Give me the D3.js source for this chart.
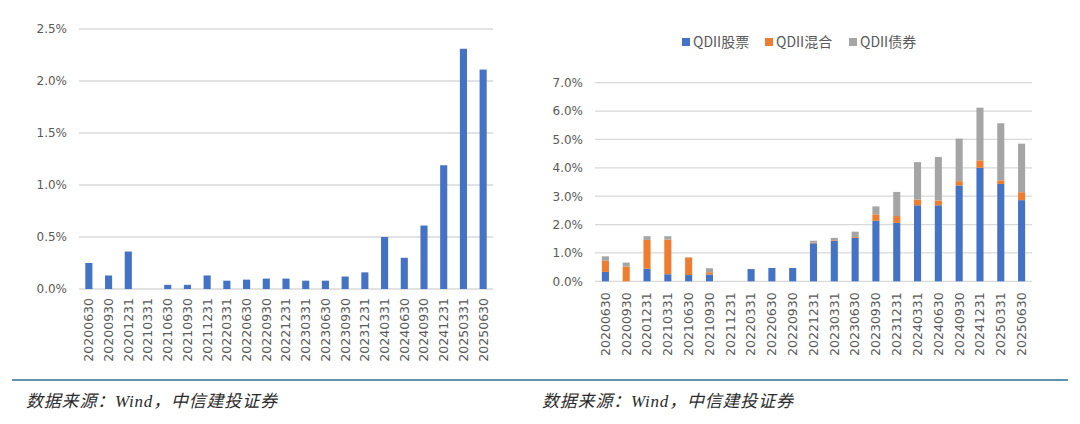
<!DOCTYPE html>
<html lang="zh">
<head>
<meta charset="UTF-8">
<title>QDII</title>
<script src="https://cdnjs.cloudflare.com/ajax/libs/d3/7.8.4/d3.min.js"></script>
<style>
  body { margin: 0; background: #fff; }
  svg { display: block; }
  .tick text { fill: #595959; }
</style>
</head>
<body>
<svg width="1080" height="424"></svg>
<script>
const dates = ["20200630","20200930","20201231","20210331","20210630","20210930","20211231",
  "20220331","20220630","20220930","20221231","20230331","20230630","20230930","20231231",
  "20240331","20240630","20240930","20241231","20250331","20250630"];

// left chart (%)
const leftValues = [0.25,0.13,0.36,0,0.04,0.04,0.13,0.08,0.09,0.10,0.10,0.08,0.08,0.12,0.16,
  0.50,0.30,0.61,1.19,2.31,2.11];

// right chart stacks (%)
const seriesNames = ["QDII股票","QDII混合","QDII债券"];
const stockValues = [0.33,0.00,0.44,0.25,0.22,0.24,0,0.43,0.47,0.47,1.34,1.43,1.53,2.13,2.06,
  2.68,2.68,3.38,4.00,3.43,2.86];
const mixValues = [0.40,0.52,1.02,1.22,0.62,0.08,0,0,0,0,0.02,0.02,0.03,0.23,0.24,
  0.20,0.17,0.15,0.26,0.13,0.28];
const bondValues = [0.15,0.14,0.13,0.12,0,0.14,0,0,0,0,0.07,0.08,0.19,0.28,0.85,
  1.32,1.53,1.50,1.86,2.01,1.71];
const leftTicks = [0,0.5,1.0,1.5,2.0,2.5];
const rightTicks = [0,1,2,3,4,5,6,7];
const colors = ["#4472C4","#ED7D31","#A5A5A5"];

const svg = d3.select("svg");
const numFont = "DejaVu Sans, sans-serif";

function drawAxes(g, x, y, ticks, x0, x1, labelGap) {
  // gridlines
  g.selectAll("line.grid").data(ticks).enter().append("line")
    .attr("x1", x0).attr("x2", x1)
    .attr("y1", d => y(d)).attr("y2", d => y(d))
    .style("stroke", "#d9d9d9").style("stroke-width", 1.3);

  const ya = g.append("g").attr("transform", `translate(${x0 - 6},0)`)
    .call(d3.axisLeft(y).tickValues(ticks).tickSize(0).tickFormat(d => d.toFixed(1) + "%"));
  ya.select(".domain").remove();
  ya.selectAll("text").style("font-family", numFont).style("font-size", "12px").attr("dx", "-3");

  const xa = g.append("g").attr("transform", `translate(0,${y(0)})`)
    .call(d3.axisBottom(x).tickSize(0));
  xa.select(".domain").remove();
  xa.selectAll("text")
    .style("font-family", numFont).style("font-size", "12.5px")
    .attr("transform", "rotate(-90)")
    .attr("text-anchor", "end")
    .attr("x", -labelGap).attr("y", 0).attr("dy", "0.35em");
}

// ---- left chart
const xL = d3.scaleBand().domain(dates).range([79, 493]).paddingInner(0.64).paddingOuter(0.32);
const yL = d3.scaleLinear().domain([0, 2.5]).range([289, 29]);
const gL = svg.append("g");
drawAxes(gL, xL, yL, leftTicks, 79, 493, 9);
gL.selectAll("rect.bar").data(leftValues).enter().append("rect")
  .attr("x", (d, i) => xL(dates[i]))
  .attr("width", xL.bandwidth())
  .attr("y", d => yL(d))
  .attr("height", d => yL(0) - yL(d))
  .style("fill", colors[0]);

// ---- right chart
const xR = d3.scaleBand().domain(dates).range([595, 1032]).paddingInner(0.66).paddingOuter(0.33);
const yR = d3.scaleLinear().domain([0, 7]).range([281.3, 82.7]);
const gR = svg.append("g");
drawAxes(gR, xR, yR, rightTicks, 595, 1032, 11);

const rows = dates.map((d, i) => ({ date: d, s0: stockValues[i], s1: mixValues[i], s2: bondValues[i] }));
const stack = d3.stack().keys(["s0","s1","s2"])(rows);
gR.selectAll("g.layer").data(stack).enter().append("g")
  .style("fill", (d, i) => colors[i])
  .selectAll("rect").data(d => d).enter().append("rect")
  .attr("x", d => xR(d.data.date))
  .attr("width", xR.bandwidth())
  .attr("y", d => yR(d[1]))
  .attr("height", d => yR(d[0]) - yR(d[1]));

// legend
const legendX = [682, 765, 849];
const leg = gR.selectAll("g.leg").data(seriesNames).enter().append("g")
  .attr("transform", (d, i) => `translate(${legendX[i]},42)`);
leg.append("rect").attr("x", 0).attr("y", -4).attr("width", 8).attr("height", 8)
  .style("fill", (d, i) => colors[i]);
leg.append("text").attr("x", 11).attr("dy", "0.35em")
  .style("font-family", "Noto Sans CJK SC, sans-serif").style("font-size", "14px")
  .style("fill", "#595959").text(d => d);

// footer
svg.append("line").attr("x1", 12).attr("x2", 1068).attr("y1", 380).attr("y2", 380)
  .style("stroke", "#2f6f92").style("stroke-width", 1.5);
svg.selectAll("text.src").data([26, 542]).enter().append("text")
  .attr("x", d => d).attr("y", 407)
  .style("font-family", "Liberation Serif, Noto Sans CJK SC, serif").style("font-size", "17px")
  .style("font-style", "italic").style("letter-spacing", "0.8px")
  .style("fill", "#2a2a2a")
  .text("数据来源：Wind，中信建投证券");
</script>
</body>
</html>
